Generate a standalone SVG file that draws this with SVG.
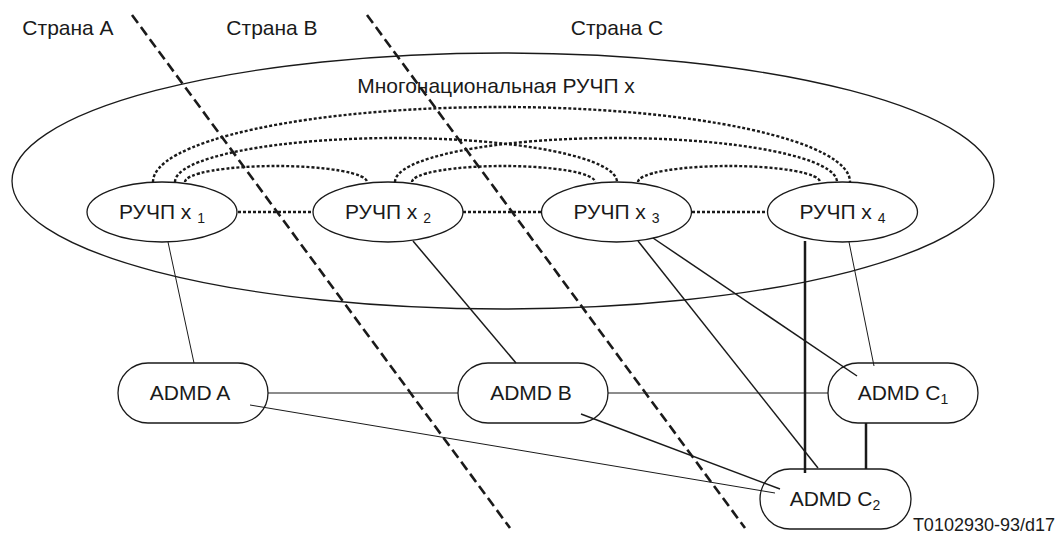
<svg xmlns="http://www.w3.org/2000/svg" width="1057" height="533" viewBox="0 0 1057 533">
<style>
text{font-family:"Liberation Sans",Arial,sans-serif;fill:#1a1a1a}
.t{font-size:21px}
.s{font-size:14px}
.n{fill:none;stroke:#1a1a1a;stroke-width:1.3}
.dot{fill:none;stroke:#1a1a1a;stroke-width:2.4;stroke-dasharray:3 2}
.dash{fill:none;stroke:#1a1a1a;stroke-width:2.6;stroke-dasharray:10 5}
.c{fill:none;stroke:#1a1a1a}
</style>
<rect width="1057" height="533" fill="#fff"/>
<g id="labels">
<text class="t" x="68" y="35" text-anchor="middle">Страна A</text>
<text class="t" x="272" y="35" text-anchor="middle">Страна B</text>
<text class="t" x="617" y="35" text-anchor="middle">Страна C</text>
<text x="1055" y="531" font-size="18" text-anchor="end">T0102930-93/d17</text>
</g>
<g id="multinational">
<ellipse class="n" cx="503" cy="181" rx="491" ry="128"/>
<text class="t" x="496" y="93" text-anchor="middle">Многонациональная РУЧП x</text>
</g>
<g id="borders">
<line class="dash" x1="132" y1="15" x2="510" y2="528"/>
<line class="dash" x1="367" y1="15" x2="745" y2="528"/>
</g>
<g id="connectors">
<line class="dot" x1="238" y1="212" x2="313" y2="212"/>
<line class="dot" x1="463" y1="212" x2="541" y2="212"/>
<line class="dot" x1="692" y1="212" x2="767" y2="212"/>
<path class="dot" d="M153,182 A348.5,75 0 0 1 850,182"/>
<path class="dot" d="M175,182 A221,44 0 0 1 617,182"/>
<path class="dot" d="M395,182 A221,44 0 0 1 837,182"/>
<path class="dot" d="M185,182 A91,16 0 0 1 367,182"/>
<path class="dot" d="M412,182 A91.5,16 0 0 1 595,182"/>
<path class="dot" d="M638,182 A91,16 0 0 1 820,182"/>
<line class="c" stroke-width="1" x1="168" y1="242" x2="194" y2="363"/>
<line class="c" stroke-width="1.5" x1="413" y1="241" x2="516" y2="363"/>
<line class="c" stroke-width="1.5" x1="653" y1="238" x2="857" y2="376"/>
<line class="c" stroke-width="1.5" x1="638" y1="241" x2="818" y2="468"/>
<line class="c" stroke-width="2.5" x1="805" y1="241" x2="805" y2="473"/>
<line class="c" stroke-width="1" x1="849" y1="242" x2="874" y2="366"/>
<line class="c" stroke-width="2.5" x1="866" y1="423" x2="866" y2="469"/>
<line class="c" stroke-width="1.2" x1="268" y1="393" x2="458" y2="393"/>
<line class="c" stroke-width="1" x1="608" y1="393" x2="828" y2="393"/>
<line class="c" stroke-width="1" x1="250" y1="405" x2="775" y2="493"/>
<line class="c" stroke-width="1.4" x1="581" y1="414" x2="780" y2="489"/>
</g>
<g id="x1">
<ellipse class="n" cx="162" cy="212" rx="75" ry="30"/>
<text class="t" x="162" y="219" text-anchor="middle">РУЧП x <tspan class="s" dy="4">1</tspan></text>
</g>
<g id="x2">
<ellipse class="n" cx="388" cy="212" rx="75" ry="30"/>
<text class="t" x="388" y="219" text-anchor="middle">РУЧП x <tspan class="s" dy="4">2</tspan></text>
</g>
<g id="x3">
<ellipse class="n" cx="616.5" cy="212" rx="75" ry="30"/>
<text class="t" x="616.5" y="219" text-anchor="middle">РУЧП x <tspan class="s" dy="4">3</tspan></text>
</g>
<g id="x4">
<ellipse class="n" cx="842.5" cy="212" rx="75" ry="30"/>
<text class="t" x="842.5" y="219" text-anchor="middle">РУЧП x <tspan class="s" dy="4">4</tspan></text>
</g>
<g id="admdA">
<rect class="n" x="118" y="363" width="150" height="60" rx="30" ry="30"/>
<text class="t" x="190" y="400" text-anchor="middle">ADMD A</text>
</g>
<g id="admdB">
<rect class="n" x="458" y="363" width="150" height="60" rx="30" ry="30"/>
<text class="t" x="531" y="400" text-anchor="middle">ADMD B</text>
</g>
<g id="admdC1">
<rect class="n" x="828" y="363" width="150" height="60" rx="30" ry="30"/>
<text class="t" x="903" y="400" text-anchor="middle">ADMD C<tspan class="s" dy="4">1</tspan></text>
</g>
<g id="admdC2">
<rect class="n" x="760" y="469" width="151" height="60" rx="30" ry="30"/>
<text class="t" x="835" y="506" text-anchor="middle">ADMD C<tspan class="s" dy="4">2</tspan></text>
</g>
</svg>
